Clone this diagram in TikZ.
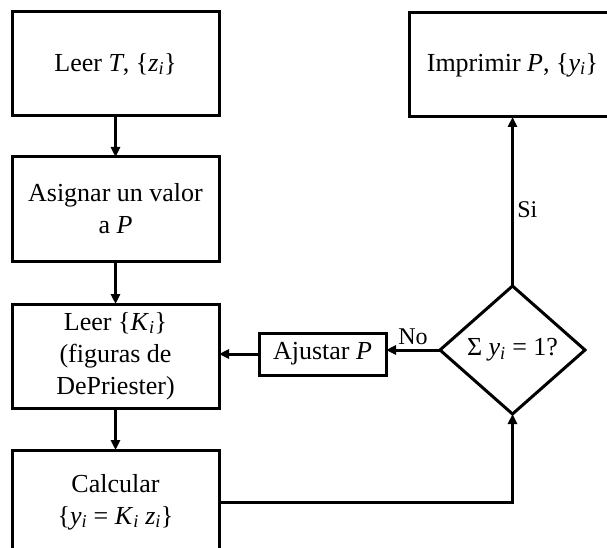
\documentclass[tikz,border=0pt]{standalone}
\usepackage{fontspec}
\setmainfont{Liberation Serif}
\usetikzlibrary{shapes.geometric,arrows.meta,positioning}
\newcommand{\vsub}[2]{\textit{#1}\textsubscript{\textit{#2}}}
\tikzset{b/.style={draw,line width=3pt,outer sep=0pt,align=center,minimum width=207pt,minimum height=104pt,inner sep=2pt},
 s/.style={draw,line width=3pt,outer sep=0pt,align=center,minimum width=127pt,minimum height=42pt,inner sep=2pt},
 d/.style={draw,diamond,line width=3pt,outer sep=0pt,align=center,minimum width=145pt,minimum height=128pt,inner sep=0pt},
 ar/.style={line width=3pt,-{Triangle[length=10pt,width=9pt]}},lb/.style={font=\fontsize{24}{28}\selectfont}}
\begin{document}
\begin{tikzpicture}[x=1pt,y=-1pt,font=\fontsize{26}{32}\selectfont]
\useasboundingbox (0,0) rectangle (607,548);
\node[b](lt) at (115.5,64){Leer \textit{T}, \{\vsub{z}{i}\}};\node[b,below=41pt of lt](ap){Asignar un valor\\a \textit{P}};
\node[b,below=43pt of ap](lk){Leer \{\vsub{K}{i}\}\\(figuras de\\DePriester)};\node[b,below=42pt of lk](cy){Calcular\\\{\vsub{y}{i} = \vsub{K}{i} \vsub{z}{i}\}};
\node[s,right=40pt of lk,yshift=2pt](aj){Ajustar \textit{P}};\node[d,right=54pt of aj,yshift=4pt](sy){Σ \vsub{y}{i} = 1?};
\node[b,above=169pt of sy](ip){Imprimir \textit{P}, \{\vsub{y}{i}\}};
\draw[ar](lt)--(ap);\draw[ar](ap)--(lk);\draw[ar](lk)--(cy);\draw[ar](aj.west)--(lk.east|-aj.west);
\draw[ar](sy.west)--node[lb,above]{No}(aj.east|-sy.west);\draw[ar](sy)--node[lb,right,pos=0.45]{Si}(ip);\draw[ar](cy.east)-|(sy.south);
\end{tikzpicture}
\end{document}
